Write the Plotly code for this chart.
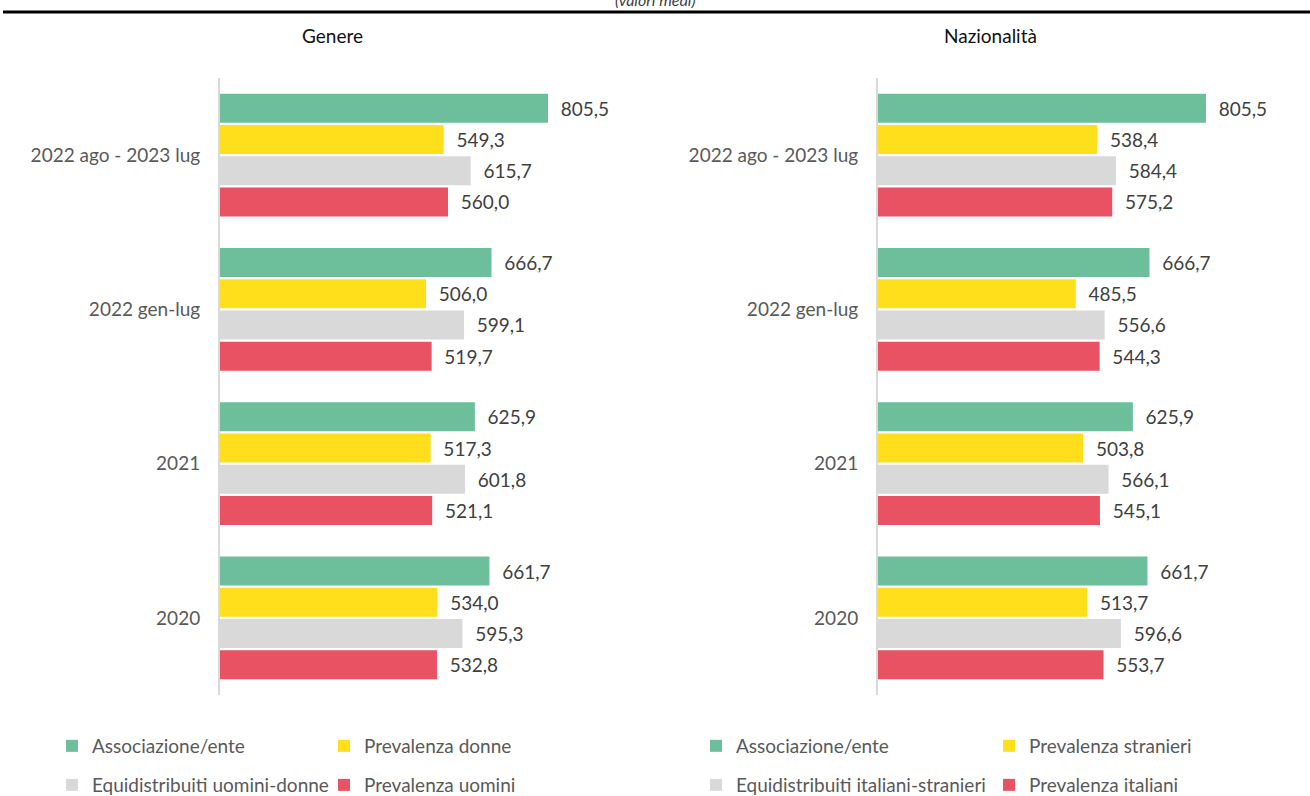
import plotly.graph_objects as go

W, H = 1310, 796

# Categories, bottom to top
categories = ["2020", "2021", "2022 gen-lug", "2022 ago - 2023 lug"]

# Genere
gen_assoc = [661.7, 625.9, 666.7, 805.5]
gen_donne = [534.0, 517.3, 506.0, 549.3]
gen_equi = [595.3, 601.8, 599.1, 615.7]
gen_uomini = [532.8, 521.1, 519.7, 560.0]

# Nazionalità
naz_assoc = [661.7, 625.9, 666.7, 805.5]
naz_stranieri = [513.7, 503.8, 485.5, 538.4]
naz_equi = [596.6, 566.1, 556.6, 584.4]
naz_italiani = [553.7, 545.1, 544.3, 575.2]

GREEN = "#6cbf9a"
YELLOW = "#ffdf1b"
GREY = "#d9d9d9"
RED = "#e85263"

FONT = "Lato"
FS = 19


def px_x(x):
    return x / W


def px_y(y):
    return 1 - y / H


fig = go.Figure()


def add_bar(name, vals, color, xa, ya, legend):
    fig.add_trace(go.Bar(
        name=name, y=categories, x=vals, orientation="h",
        marker=dict(color=color, line=dict(width=0)),
        texttemplate="\u00a0\u00a0%{x:.1f}", textposition="outside",
        constraintext="none", cliponaxis=False,
        textfont=dict(family=FONT, size=FS, color="#404040"),
        xaxis=xa, yaxis=ya, legend=legend,
    ))


# Bottom-to-top within each group: red, grey, yellow, green
add_bar("Prevalenza uomini", gen_uomini, RED, "x", "y", "legend4")
add_bar("Equidistribuiti uomini-donne", gen_equi, GREY, "x", "y", "legend3")
add_bar("Prevalenza donne", gen_donne, YELLOW, "x", "y", "legend2")
add_bar("Associazione/ente", gen_assoc, GREEN, "x", "y", "legend")

add_bar("Prevalenza italiani", naz_italiani, RED, "x2", "y2", "legend8")
add_bar("Equidistribuiti italiani-stranieri", naz_equi, GREY, "x2", "y2", "legend7")
add_bar("Prevalenza stranieri", naz_stranieri, YELLOW, "x2", "y2", "legend6")
add_bar("Associazione/ente", naz_assoc, GREEN, "x2", "y2", "legend5")

scale_w = 407.2  # pixels spanned by 0..1000
ydom = [px_y(695), px_y(78)]

xcommon = dict(range=[0, 1000], visible=False, showgrid=False, zeroline=False, fixedrange=True)
ycommon = dict(
    type="category", categoryorder="array", categoryarray=categories,
    showline=True, linecolor="#d9d9d9", linewidth=2, showgrid=False, zeroline=False,
    ticks="outside", ticklen=14, tickcolor="rgba(0,0,0,0)",
    tickfont=dict(family=FONT, size=FS, color="#595959"), domain=ydom,
)

# legend key positions: (left of swatch, vertical centre of row)
legend_pos = {
    "legend": (70, 746), "legend2": (342, 746), "legend3": (70, 785), "legend4": (342, 785),
    "legend5": (714, 746), "legend6": (1007, 746), "legend7": (714, 785), "legend8": (1007, 785),
}
legends = {}
for key, (sx, sy) in legend_pos.items():
    legends[key] = dict(
        x=px_x(sx - 18), y=px_y(sy), xanchor="left", yanchor="middle",
        bgcolor="rgba(0,0,0,0)", borderwidth=0,
        font=dict(family=FONT, size=FS, color="#595959"),
    )

fig.update_layout(
    width=W, height=H, autosize=False,
    margin=dict(l=0, r=0, t=0, b=0, autoexpand=False),
    paper_bgcolor="white", plot_bgcolor="white",
    barmode="group", bargap=0.19, bargroupgap=0.07,
    separators=",.",
    font=dict(family=FONT, size=FS, color="#595959"),
    xaxis=dict(domain=[px_x(220), px_x(220 + scale_w)], anchor="y", **xcommon),
    yaxis=dict(anchor="x", **ycommon),
    xaxis2=dict(domain=[px_x(878), px_x(878 + scale_w)], anchor="y2", **xcommon),
    yaxis2=dict(anchor="x2", **ycommon),
    showlegend=True,
    **legends,
    shapes=[dict(type="line", xref="paper", yref="paper", x0=px_x(3), x1=1,
                 y0=px_y(12), y1=px_y(12), line=dict(color="#000000", width=3))],
    annotations=[
        dict(text="<i>(valori medi)</i>", xref="paper", yref="paper", x=px_x(655), y=px_y(-1),
             xanchor="center", yanchor="middle", showarrow=False,
             font=dict(family=FONT, size=16, color="#404040")),
        dict(text="Genere", xref="paper", yref="paper", x=px_x(332), y=px_y(35),
             xanchor="center", yanchor="middle", showarrow=False,
             font=dict(family=FONT, size=19, color="#111111")),
        dict(text="Nazionalità", xref="paper", yref="paper", x=px_x(990), y=px_y(35),
             xanchor="center", yanchor="middle", showarrow=False,
             font=dict(family=FONT, size=19, color="#111111")),
    ],
)

fig.write_html("out.html")
